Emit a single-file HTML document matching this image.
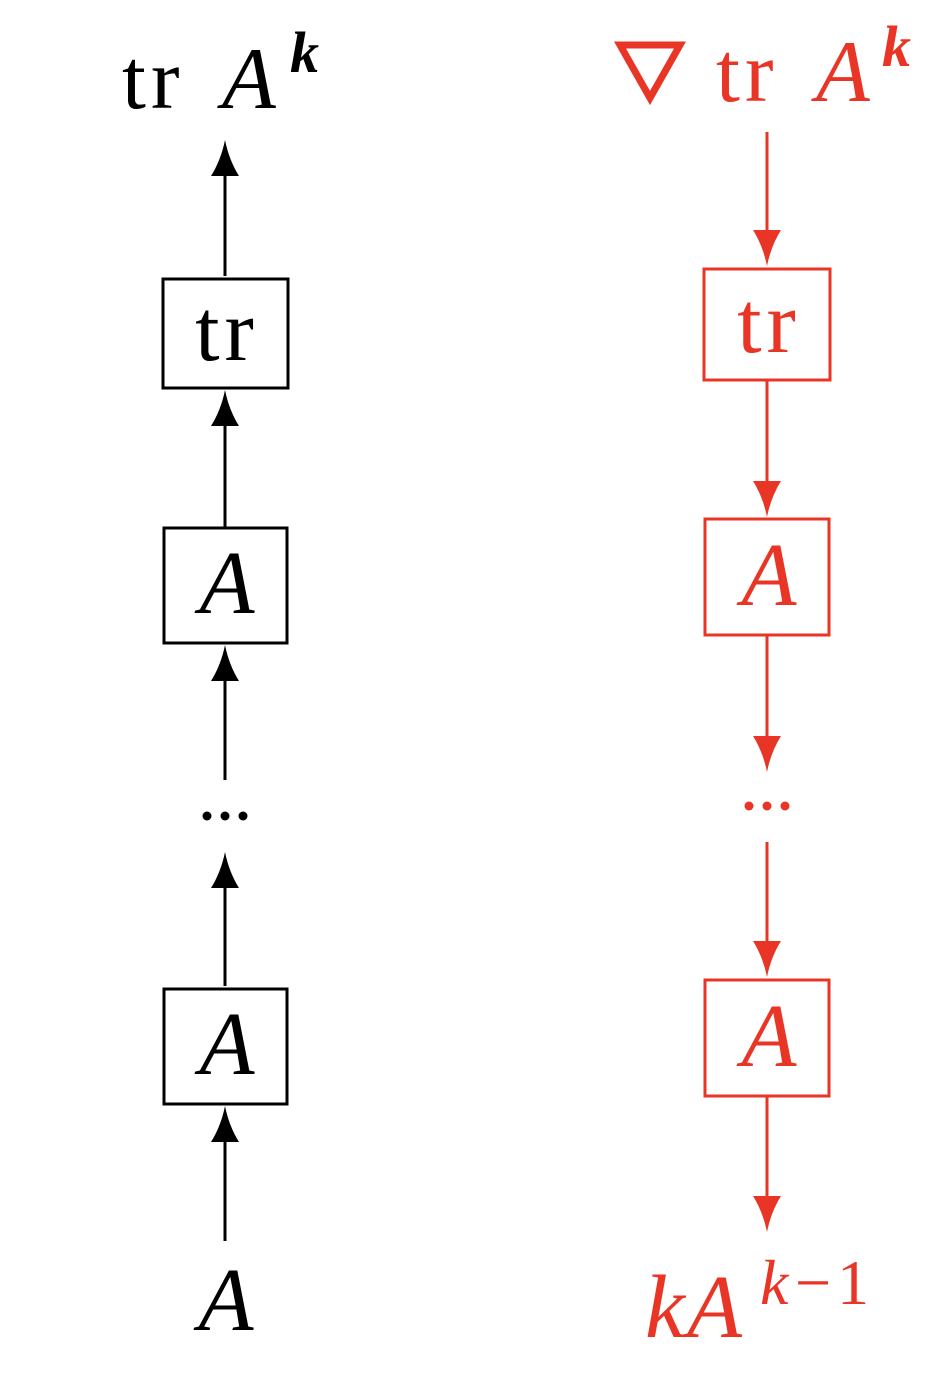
<!DOCTYPE html>
<html><head><meta charset="utf-8"><style>
html,body{margin:0;padding:0;background:#fff;}
svg{display:block;}
text{font-family:"Liberation Serif","DejaVu Serif",serif;}
.i{font-style:italic;}
</style></head><body>
<svg width="948" height="1394" viewBox="0 0 948 1394" xmlns="http://www.w3.org/2000/svg">
<defs>
<path id="hu" d="M0,0 Q4,20 14,36 L-14,36 Q-4,20 0,0 Z"/>
</defs>
<g stroke="#000" stroke-width="3" fill="none">
<line x1="225" y1="276" x2="225" y2="170"/>
<rect x="163" y="279" width="125" height="109"/>
<line x1="225" y1="527" x2="225" y2="420"/>
<rect x="164" y="528" width="123" height="115"/>
<line x1="225" y1="780" x2="225" y2="675"/>
<line x1="225" y1="986" x2="225" y2="882"/>
<rect x="164" y="989" width="123" height="115"/>
<line x1="225" y1="1241" x2="225" y2="1136"/>
</g>
<g fill="#000">
<use href="#hu" x="225" y="140"/>
<use href="#hu" x="225" y="390"/>
<use href="#hu" x="225" y="645"/>
<use href="#hu" x="225" y="852"/>
<use href="#hu" x="225" y="1106"/>
<circle cx="207" cy="816" r="4.5"/><circle cx="225" cy="816" r="4.5"/><circle cx="243" cy="816" r="4.5"/>
<text x="122" y="108" font-size="86" letter-spacing="5">tr</text>
<text x="222" y="108" font-size="88" class="i">A</text>
<text x="290" y="72" font-size="58" class="i" font-weight="bold">k</text>
<text x="227" y="360" font-size="88" text-anchor="middle" letter-spacing="5">tr</text>
<text x="227" y="613" font-size="90" class="i" text-anchor="middle">A</text>
<text x="227" y="1074" font-size="90" class="i" text-anchor="middle">A</text>
<text x="226" y="1330" font-size="90" class="i" text-anchor="middle">A</text>
</g>
<g stroke="#e93525" stroke-width="3" fill="none">
<line x1="767" y1="132" x2="767" y2="240"/>
<rect x="704" y="269" width="126" height="111"/>
<line x1="767" y1="380" x2="767" y2="490"/>
<rect x="705" y="519" width="124" height="116"/>
<line x1="767" y1="635" x2="767" y2="745"/>
<line x1="767" y1="842" x2="767" y2="950"/>
<rect x="705" y="980" width="124" height="116"/>
<line x1="767" y1="1096" x2="767" y2="1205"/>
<path d="M620,45 L680,45 L650,98 Z" stroke-width="7" stroke-linejoin="miter"/>
</g>
<g fill="#e93525">
<use href="#hu" transform="translate(767,266) rotate(180)"/>
<use href="#hu" transform="translate(767,517) rotate(180)"/>
<use href="#hu" transform="translate(767,772) rotate(180)"/>
<use href="#hu" transform="translate(767,977) rotate(180)"/>
<use href="#hu" transform="translate(767,1232) rotate(180)"/>
<circle cx="749" cy="806" r="4.5"/><circle cx="767" cy="806" r="4.5"/><circle cx="785" cy="806" r="4.5"/>
<text x="716" y="101" font-size="86" letter-spacing="5">tr</text>
<text x="816" y="101" font-size="88" class="i">A</text>
<text x="882" y="66" font-size="58" class="i" font-weight="bold">k</text>
<text x="769" y="352" font-size="88" text-anchor="middle" letter-spacing="5">tr</text>
<text x="769" y="605" font-size="90" class="i" text-anchor="middle">A</text>
<text x="769" y="1066" font-size="90" class="i" text-anchor="middle">A</text>
<text x="645" y="1337" font-size="90" class="i" letter-spacing="2">kA</text>
<text x="760" y="1304" font-size="64" class="i">k</text>
<text x="795" y="1304" font-size="64" letter-spacing="6">−1</text>
</g>
</svg>
</body></html>
